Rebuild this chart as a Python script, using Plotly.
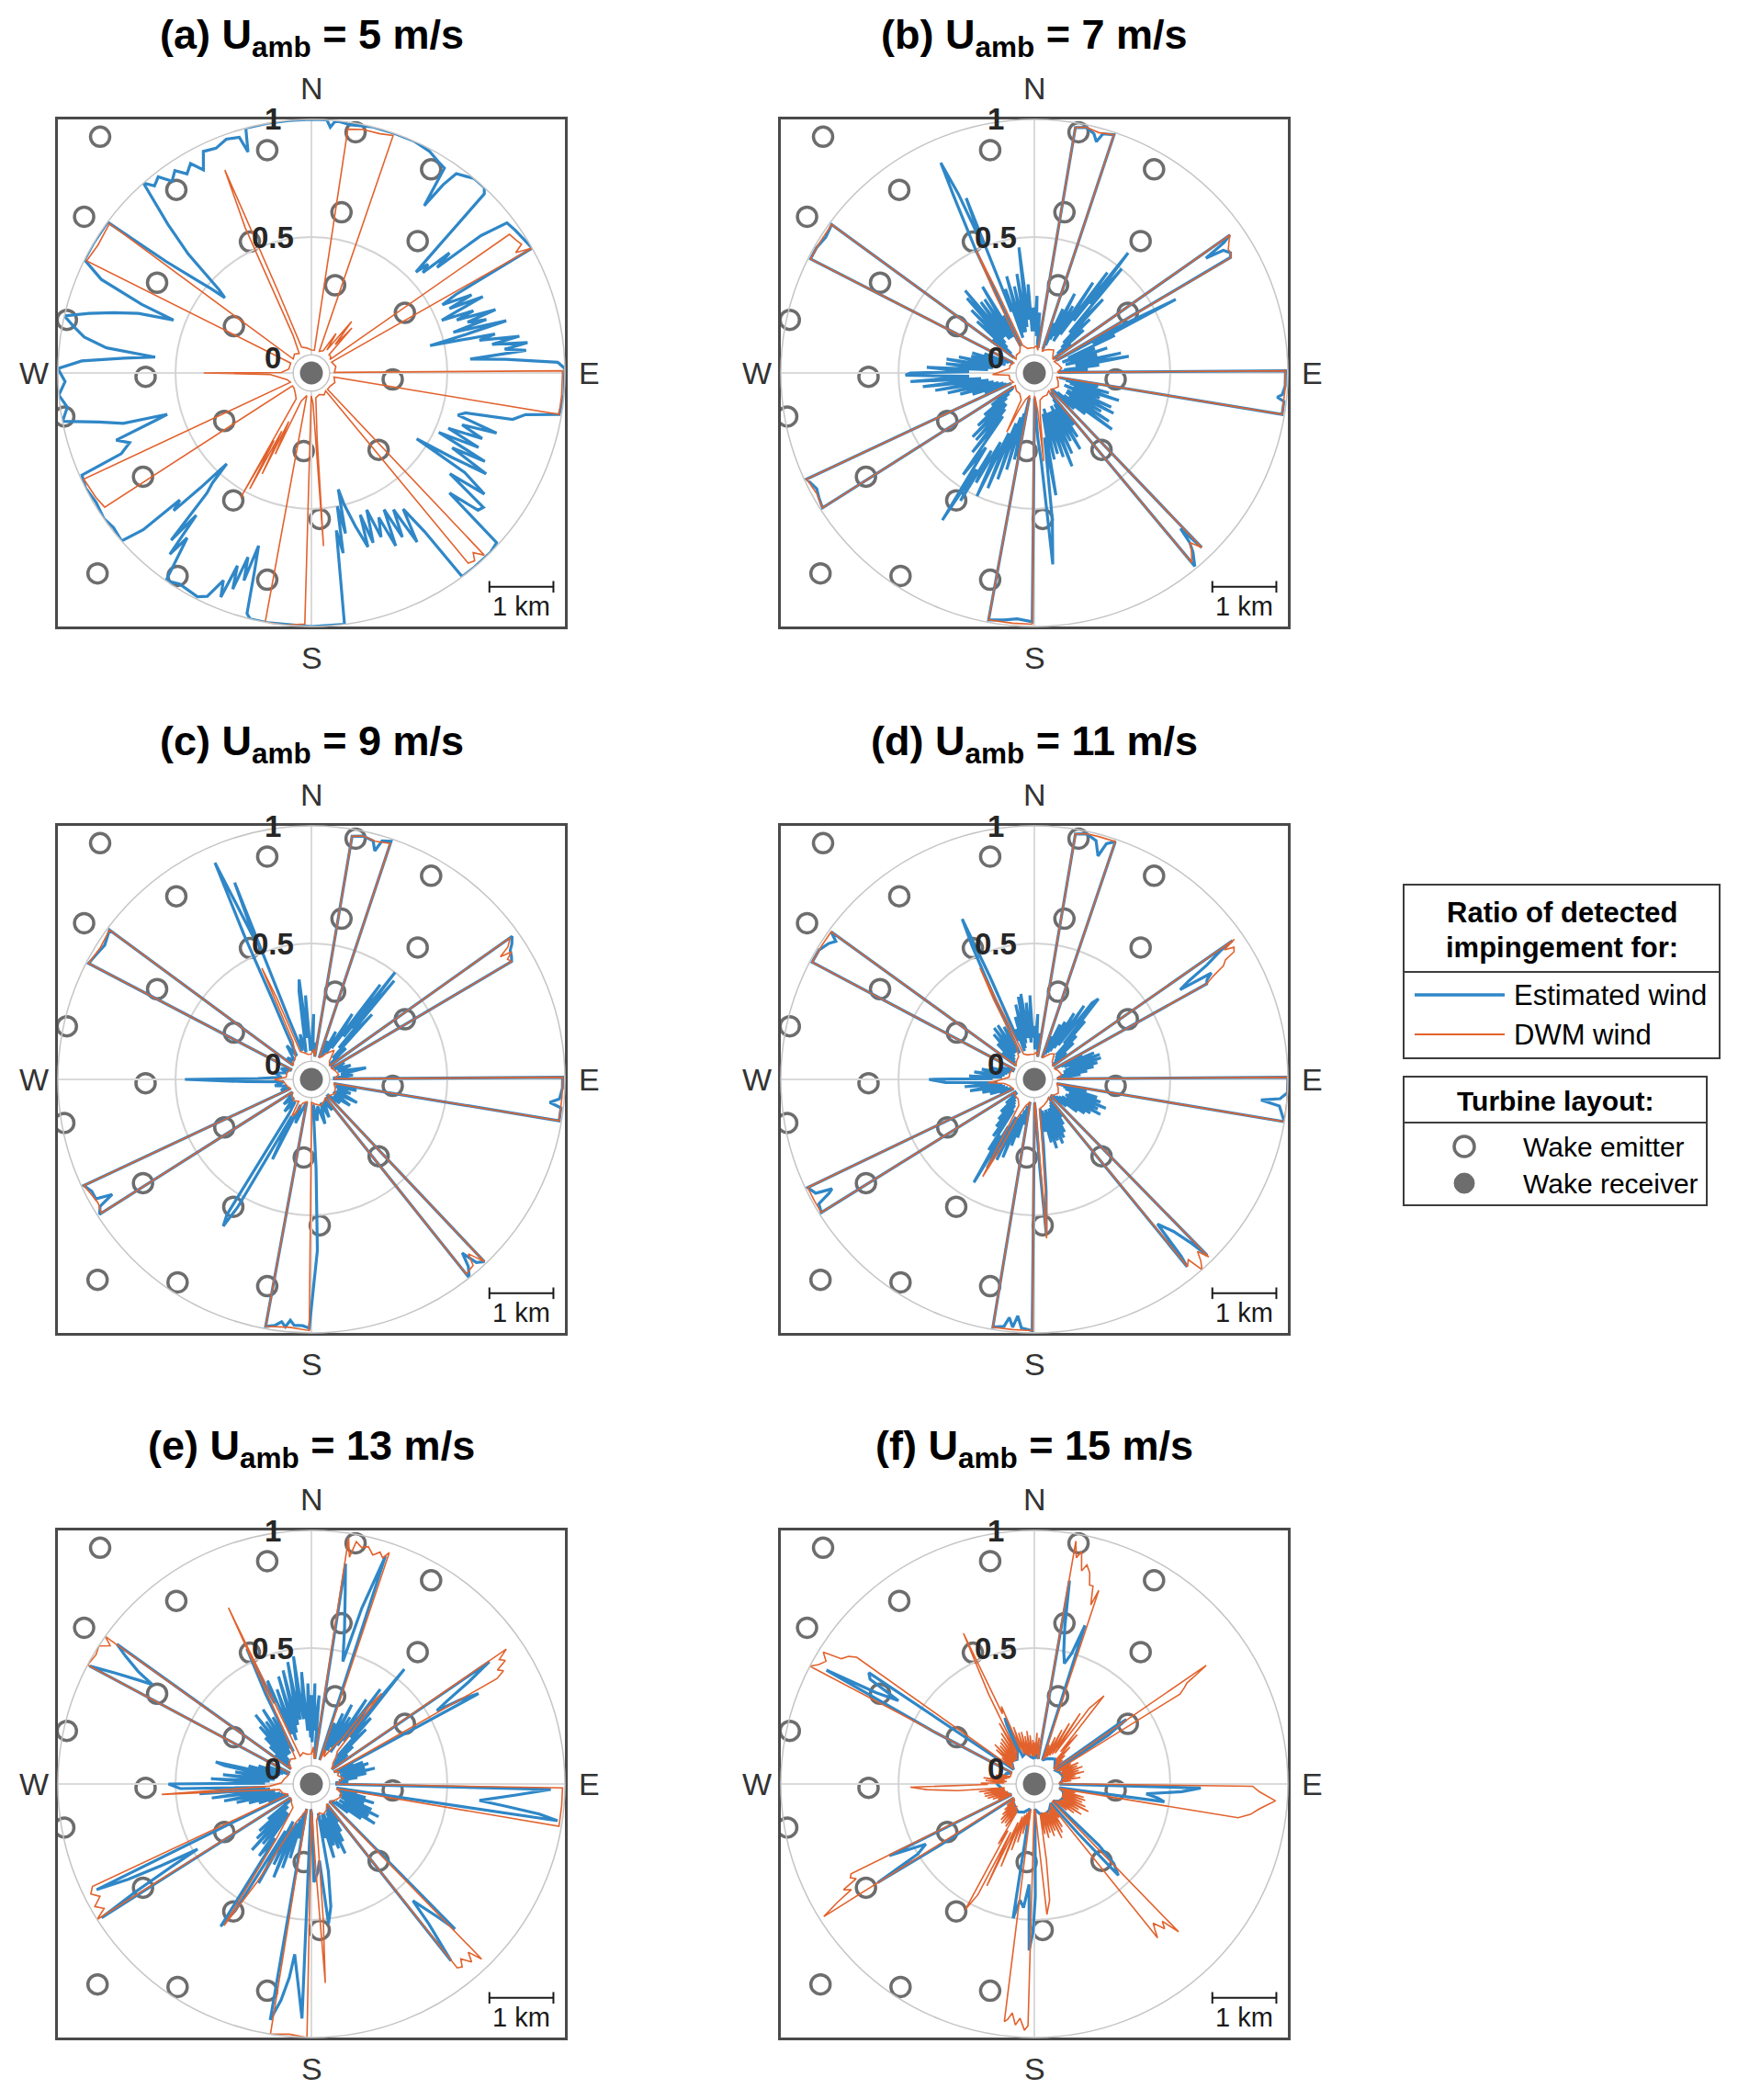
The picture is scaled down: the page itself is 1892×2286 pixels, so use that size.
import math
import plotly.graph_objects as go

# ---------------- data ----------------
SPEEDS = ["5", "7", "9", "11", "13", "15"]
LETTERS = ["a", "b", "c", "d", "e", "f"]
DIR_VALS = [0, 90, 180, 270]
DIR_TEXT = ["N", "E", "S", "W"]
R_TICKS = [0, 0.5, 1]
R_TICKTEXT = ["0", "0.5", "1"]

# turbine layout (km, receiver at origin)
TURB_X = [-3.30, -0.69, 0.69, 1.87, -2.11, 0.47, -3.55, -0.96, 1.66, -2.41, 0.37, 1.46, -3.82,
          -1.21, -2.59, 1.27, -3.86, -1.36, -0.12, 1.05, -2.63, -1.22, 0.13, -3.34, -2.09, -0.69]
TURB_Y = [3.69, 3.48, 3.76, 3.18, 2.86, 2.51, 2.44, 2.05, 2.06, 1.41, 1.37, 0.94, 0.83,
          0.73, -0.06, -0.10, -0.68, -0.75, -1.22, -1.20, -1.62, -1.99, -2.28, -3.13, -3.17, -3.23]
RECV_X = [0.0]
RECV_Y = [0.0]
HALF_KM = 3.96
SCALE_KM = 1.0

# ratio of detected impingement: (direction deg, ratio)
EST_A = [[0,1.0],[3.5,1.0],[4.4,0.97],[5.5,1.0],[9,0.99],[14,1.0],[19,1.0],[24,1.0],[28,0.99],[31,0.97],[33,0.96],[34,0.78],[35,0.9],[36,0.97],[40,1.0],[43,1.0],
 [44,0.98],[45,0.7],[46,0.54],[47,0.6],[48,0.56],[49,0.7],[50,0.62],[51,0.85],[52.5,0.97],[55,0.98],[58,0.99],[60.5,1.0],
 [61.5,0.62],[62.5,0.55],[64,0.68],[65,0.57],[66,0.72],[67,0.6],[68,0.52],[69,0.66],[70,0.58],[71,0.75],[72,0.62],[73,0.7],[74,0.55],[75,0.78],[76,0.6],[77,0.44],[78,0.72],[79,0.65],[80,0.82],[81,0.7],[82,0.85],[83,0.75],[84,0.84],[85,0.6],[86,0.75],[87.5,0.97],[89,1.0],[95,1.0],[99.5,0.99],
 [101,0.85],[103,0.8],[104.5,0.6],[106,0.57],[108,0.75],[109,0.6],[111,0.7],[112,0.55],[114,0.7],[115,0.52],[117,0.75],[118,0.6],[120,0.78],[121,0.62],[122,0.45],[123,0.7],[125,0.82],[126,0.65],[128,0.85],[129.5,0.84],[131,0.7],[132.5,0.99],[135,1.0],[140,1.0],[143.5,1.0],
 [144.5,0.75],[146,0.62],[148,0.77],[149,0.6],[151,0.72],[152,0.58],[154,0.74],[155,0.6],[157,0.68],[158,0.55],[160,0.69],[161,0.56],[162,0.7],[164,0.6],[166,0.5],[167,0.43],[168,0.62],[169,0.5],[170,0.7],[171,0.6],[172.5,1.0],[180,1.0],[190,1.0],[194,1.0],
 [195,0.98],[196,0.8],[197,0.69],[198,0.85],[199,0.75],[200,0.9],[201,0.8],[202,0.95],[203,0.88],[205,0.97],[207,0.99],[212,0.98],[215,1.0],[217,0.8],[218,0.9],[219,0.7],[220,0.85],[221,0.6],[222,0.55],[223,0.45],[224,0.6],[225,0.75],[226,0.7],[227,0.9],[228.5,1.0],[232,0.99],[235,1.0],[239,0.99],[243,1.0],[246,0.99],
 [247,0.8],[249,0.75],[251,0.8],[253,0.62],[254,0.56],[255,0.75],[257,0.85],[259,1.0],[262,0.97],[265,1.0],[268,0.97],[271,1.0],[273,0.9],[274.5,0.72],[275.8,0.59],[277,0.8],[279,0.9],[281,0.95],[283,1.0],[285,0.9],[287,0.8],[289,0.7],[291,0.55],[292,0.7],[294,0.9],[296.5,1.0],[301,1.0],[306.5,1.0],
 [307.5,0.7],[309,0.55],[310,0.48],[311,0.41],[312,0.45],[314,0.65],[316,0.8],[318.5,1.0],[320,0.96],[322,0.98],[324,0.93],[326,0.96],[328,0.92],[330,0.95],[332,0.9],[334,0.97],[337,0.96],[340,0.98],[343,0.97],[344,0.9],[345,1.0],[350,1.0],[355,1.0],[360,1.0]]

DWM_A = [[0,0.02],[7.5,0.02],[8.5,0.97],[12,0.98],[16,0.98],[19,0.99],[20,0.02],[28,0.03],[32,0.12],[34,0.04],[38,0.2],[40,0.08],[42,0.18],[44,0.03],[50,0.03],[54,0.02],[55,0.95],[57,0.96],[58.5,0.97],[59.5,0.93],[60.5,1.0],[61.5,0.02],[75,0.03],[88.5,0.02],[89.5,0.99],[95,0.99],[99.5,0.99],[100.5,0.02],[112,0.03],[125,0.02],[135.5,0.02],[136.5,0.99],[138,0.95],[139,0.98],[140.5,0.97],[141.5,0.02],[150,0.03],[160,0.02],[170,0.03],[175,0.2],[176,0.66],[177,0.05],[180.5,0.02],[181.5,0.99],[186,1.0],[190.5,1.0],[191.5,0.02],
 [200,0.05],[204,0.3],[205,0.15],[206,0.4],[207,0.2],[208,0.48],[209,0.25],[209.6,0.53],[210.5,0.05],[220,0.03],[230,0.02],[236,0.02],[237,0.97],[240,0.98],[245,0.99],[246,0.02],[255,0.03],[268,0.1],[270,0.38],[271,0.05],[280,0.02],[295.5,0.02],[296.5,0.99],[301,0.98],[306.5,0.99],[307.5,0.02],[318,0.03],[328,0.02],[334,0.1],[335.5,0.6],[336.9,0.86],[337.8,0.3],[339,0.04],[350,0.03],[360,0.02]]

EST_B = [[0,0.1],[2,0.25],[3,0.08],[5,0.18],[6,0.05],[8.5,0.03],[9.5,0.98],[12,0.99],[14,0.97],[15,0.94],[16,0.98],[18.5,0.99],[19.5,0.03],
 [21,0.15],[22,0.05],[24,0.22],[25,0.08],[27,0.3],[28,0.1],[30,0.25],[31,0.08],[33,0.38],[34,0.12],[36,0.45],[37,0.2],[38,0.57],[39,0.3],[40,0.5],[41,0.15],[43,0.35],[44,0.1],[46,0.25],[47,0.08],[49,0.2],[50,0.05],[52,0.12],[53,0.03],
 [53.8,0.03],[54.8,0.94],[55.5,0.9],[56.2,0.8],[57,0.88],[58.5,0.9],[59.5,0.89],[60.3,0.03],
 [61.5,0.35],[62.5,0.6],[63.5,0.2],[65,0.3],[66,0.08],[68,0.2],[69,0.05],[71,0.25],[72,0.08],[74,0.2],[75,0.06],[77,0.3],[78,0.1],[80,0.33],[81,0.1],[83,0.2],[84,0.05],[86,0.15],[87,0.03],
 [88.5,0.03],[89.5,0.99],[93,0.99],[95,0.98],[95.7,0.96],[96.5,0.99],[99.5,0.99],[100.5,0.03],
 [102,0.2],[103,0.06],[105,0.25],[106,0.08],[108,0.3],[109,0.1],[111,0.22],[112,0.06],[114,0.28],[115,0.1],[117,0.3],[118,0.08],[120,0.25],[121,0.08],[123,0.3],[124,0.1],[126,0.33],[127,0.08],[129,0.2],[130,0.05],[132,0.15],[133,0.03],
 [135.2,0.03],[136.2,0.95],[136.8,0.83],[137.5,0.9],[138.5,0.94],[140.3,0.99],[141.3,0.03],
 [143,0.2],[144,0.06],[146,0.25],[147,0.08],[149,0.3],[150,0.1],[152,0.25],[153,0.08],[155,0.3],[156,0.1],[158,0.35],[159,0.1],[161,0.3],[162,0.1],[164,0.28],[165,0.08],[167,0.3],[168,0.1],[170,0.45],[171,0.2],[173,0.55],[174.5,0.74],[175.5,0.3],[177,0.2],[178.5,0.05],
 [179.5,0.03],[180.5,0.98],[184,0.97],[187,0.98],[190.5,0.99],[191.5,0.03],
 [193,0.3],[194,0.1],[196,0.35],[197,0.12],[199,0.4],[200,0.15],[202,0.45],[203,0.2],[205,0.5],[206,0.25],[208,0.45],[209,0.3],[210,0.55],[211,0.4],[212,0.66],[213,0.3],[215,0.45],[216,0.15],[218,0.35],[219,0.12],[221,0.3],[222,0.1],[224,0.3],[225,0.1],[227,0.25],[228,0.08],[230,0.2],[231,0.06],[233,0.15],[234,0.04],
 [236.5,0.03],[237.5,0.99],[240,0.98],[242,0.97],[245,0.99],[246,0.03],
 [248,0.15],[249,0.05],[251,0.2],[252,0.06],[254,0.25],[255,0.08],[257,0.3],[258,0.1],[260,0.35],[261,0.12],[263,0.4],[264,0.15],[266,0.45],[267,0.2],[269,0.47],[270,0.45],[271,0.2],[273,0.38],[274,0.12],[276,0.3],[277,0.1],[279,0.3],[280,0.08],[282,0.25],[283,0.08],[285,0.2],[286,0.05],[288,0.2],[289,0.06],[291,0.15],[292,0.04],[294,0.08],[295,0.03],
 [296,0.03],[297,0.99],[300,0.99],[303,0.98],[306.2,0.99],[307,0.03],
 [309,0.15],[310,0.05],[312,0.25],[313,0.08],[315,0.3],[316,0.1],[318,0.35],[319,0.12],[320,0.38],[321,0.12],[323,0.3],[324,0.1],[326,0.3],[327,0.1],[329,0.35],[330,0.1],[332,0.2],[333,0.05],
 [334.5,0.5],[335.5,0.75],[336,0.9],[337,0.75],[338,0.5],[338.7,0.72],[339.5,0.2],[341,0.3],[342,0.08],[344,0.35],[345,0.1],[347,0.3],[348,0.1],[350,0.35],[351,0.12],[353,0.46],[354,0.15],[356,0.3],[357,0.1],[359,0.2],[360,0.1]]

DWM_B = [[0,0.03],[5,0.04],[8.5,0.02],[9.5,0.98],[12,0.99],[15,0.98],[18.5,0.99],[19.5,0.02],[25,0.03],[32,0.04],[40,0.05],[47,0.03],[53.8,0.02],[54.8,0.94],[56,0.92],[57.5,0.9],[58.5,0.9],[59.6,0.89],[60.3,0.02],[70,0.03],[80,0.04],[88.5,0.02],[89.5,0.99],[94,0.99],[99.5,0.99],[100.5,0.02],[110,0.03],[120,0.04],[128,0.03],[135.2,0.02],[136.2,0.95],[137.5,0.9],[138.5,0.93],[140.3,0.97],[141.3,0.02],[150,0.03],[160,0.03],[168,0.04],[172,0.1],[174,0.3],[175,0.08],[179.5,0.02],[180.5,0.99],[185,0.99],[190.5,0.99],[191.5,0.02],[198,0.04],[203,0.1],[205,0.2],[206,0.05],[215,0.03],[225,0.03],[236.5,0.02],[237.5,0.99],[241,0.98],[245,0.99],[246,0.02],[255,0.03],[265,0.03],[268,0.1],[270,0.08],[280,0.03],[288,0.03],[296,0.02],[297,0.99],[301,0.99],[306.2,0.99],[307,0.02],[315,0.03],[325,0.03],[332,0.05],[333.5,0.3],[334.6,0.5],[335.5,0.3],[337,0.05],[345,0.03],[352,0.03],[360,0.03]]

EST_C = [[0,0.05],[2,0.2],[3,0.04],[5,0.08],[8.5,0.02],[9.5,0.97],[12,0.98],[14.5,0.97],[15.5,0.93],[16.5,0.98],[18.5,0.99],[19.5,0.02],
 [22,0.1],[24,0.03],[27,0.15],[29,0.05],[32,0.25],[33,0.08],[36,0.42],[37,0.15],[38,0.5],[39,0.2],[40,0.47],[41,0.1],[43,0.3],[45,0.05],[48,0.12],[50,0.03],
 [53.5,0.02],[54.5,0.97],[56,0.95],[57,0.93],[58.5,0.92],[59.5,0.91],[60.5,0.02],
 [63,0.08],[66,0.03],[70,0.1],[73,0.04],[78,0.16],[80,0.05],[84,0.1],[86,0.02],
 [88.5,0.02],[89.5,0.99],[92,0.99],[94.5,0.98],[95.5,0.94],[96.5,0.99],[99.5,0.99],[100.5,0.02],
 [104,0.12],[106,0.03],[110,0.1],[113,0.04],[117,0.14],[120,0.03],[124,0.12],[127,0.04],[130,0.08],[133,0.02],
 [135.5,0.02],[136.5,0.99],[138,0.97],[139,0.9],[140,0.96],[141.5,1.0],[142.5,0.02],
 [146,0.08],[150,0.03],[155,0.1],[158,0.03],[163,0.12],[167,0.04],[172,0.1],[176,0.03],[177,0.3],[178,0.65],
 [180.5,0.98],[182,0.97],[184,0.97],[185,0.95],[186,0.98],[187,0.96],[188.5,0.98],[190.5,0.99],[191.5,0.02],
 [196,0.05],[200,0.12],[203,0.04],[206,0.3],[208,0.1],[210,0.55],[211,0.65],[212,0.6],[213,0.1],[216,0.04],[220,0.1],[224,0.03],[228,0.08],[232,0.03],
 [236.5,0.02],[237.5,0.99],[239,0.97],[240,0.9],[241,0.97],[243,0.97],[245,0.99],[246,0.02],
 [250,0.06],[255,0.03],[260,0.08],[265,0.04],[268,0.2],[270,0.46],[271,0.15],[274,0.05],[280,0.08],[285,0.03],[290,0.06],[294,0.02],
 [296.5,0.02],[297.5,0.99],[300,0.98],[303,0.97],[306.5,0.99],[307.5,0.02],
 [312,0.06],[318,0.03],[324,0.1],[328,0.04],[332,0.15],[334,0.3],[335,0.6],[336,0.93],[337,0.7],[338,0.55],[338.7,0.82],[339.5,0.2],[342,0.05],[346,0.12],[349,0.04],[352,0.3],[353,0.35],[354,0.1],[356,0.28],[358,0.05],[360,0.05]]

DWM_C = [[0,0.03],[5,0.05],[8.5,0.02],[9.5,0.97],[12,0.98],[15,0.97],[18.5,0.98],[19.5,0.02],[25,0.03],[30,0.05],[38,0.08],[45,0.03],[53.5,0.02],[54.5,0.96],[56,0.93],[57,0.88],[57.5,0.93],[58.5,0.9],[59.5,0.91],[60.5,0.02],[70,0.03],[80,0.04],[88.5,0.02],[89.5,0.99],[94,0.99],[99.5,0.99],[100.5,0.02],[110,0.03],[120,0.04],[128,0.03],[135.5,0.02],[136.5,0.99],[138,0.92],[139,0.97],[141.5,0.98],[142.5,0.02],[150,0.03],[160,0.04],[170,0.03],[179.5,0.02],[180.5,0.99],[185,0.98],[190.5,0.99],[191.5,0.02],[200,0.03],[205,0.08],[208,0.1],[210,0.03],[220,0.04],[230,0.03],[236.5,0.02],[237.5,0.98],[240,0.97],[243,0.98],[245,0.99],[246,0.02],[255,0.03],[265,0.04],[270,0.08],[275,0.03],[285,0.03],[296.5,0.02],[297.5,0.99],[302,0.98],[306.5,0.99],[307.5,0.02],[315,0.03],[325,0.04],[334,0.1],[336,0.44],[337,0.3],[338,0.05],[345,0.04],[352,0.03],[360,0.03]]

EST_D = [[0,0.15],[1,0.05],[3,0.2],[4,0.06],[6,0.12],[7,0.03],[8.5,0.02],[9.5,0.98],[12,0.99],[14.5,0.97],[15.9,0.91],[17,0.97],[18.8,0.99],[19.8,0.02],
 [22,0.12],[23,0.04],[25,0.18],[26,0.05],[28,0.2],[29,0.06],[31,0.25],[32,0.08],[34,0.3],[35,0.1],[37,0.33],[38.5,0.36],[39.5,0.12],[41,0.25],[42,0.06],[44,0.18],[45,0.05],[47,0.15],[48,0.04],[50,0.1],[51,0.03],
 [54,0.02],[55,0.95],[55.3,0.89],[56.5,0.8],[57.5,0.7],[58.4,0.65],[59,0.8],[60,0.77],[61,0.76],[61.8,0.02],
 [63,0.15],[64,0.05],[66,0.2],[67,0.06],[69,0.22],[70,0.08],[72,0.22],[73,0.06],[75,0.2],[76,0.05],[78,0.18],[79,0.05],[81,0.15],[82,0.04],[84,0.12],[85,0.03],
 [88.5,0.02],[89.5,1.0],[93,1.0],[94.5,0.97],[95.2,0.89],[96.2,0.97],[99.6,1.0],[100.6,0.02],
 [103,0.15],[104,0.05],[106,0.2],[107,0.06],[109,0.22],[110,0.08],[112,0.25],[113,0.08],[115,0.22],[116,0.07],[118,0.24],[119,0.08],[121,0.2],[122,0.06],[124,0.18],[125,0.05],[127,0.15],[128,0.04],[130,0.1],[131,0.03],
 [134.5,0.02],[135.5,0.97],[136.3,0.88],[137.5,0.8],[139.6,0.73],[140.3,0.9],[140.8,0.95],[141.5,0.02],
 [144,0.12],[145,0.04],[147,0.15],[148,0.05],[150,0.18],[151,0.06],[153,0.2],[154,0.06],[156,0.22],[157,0.07],[159,0.2],[160,0.06],[162,0.23],[163,0.07],[165,0.2],[166,0.06],[168,0.15],[169,0.05],[172,0.2],[174,0.4],[175.6,0.58],[176.5,0.3],[178,0.05],
 [179.5,0.02],[180.5,0.99],[183,0.98],[184,0.93],[185,0.98],[186,0.94],[187,0.98],[189.5,0.99],[190.5,0.02],
 [193,0.12],[194,0.04],[196,0.18],[197,0.06],[199,0.22],[200,0.08],[202,0.28],[203,0.1],[205,0.3],[206,0.1],[208,0.35],[209,0.15],[210.4,0.43],[211.5,0.2],[213,0.28],[214,0.08],[216,0.22],[217,0.06],[219,0.18],[220,0.05],[222,0.15],[223,0.04],[226,0.12],[227,0.03],[230,0.08],[232,0.02],
 [237,0.02],[238,0.99],[240,0.98],[241,0.92],[241.6,0.9],[242.5,0.97],[244.5,0.99],[245.5,0.02],
 [248,0.08],[249,0.03],[252,0.12],[253,0.04],[256,0.15],[257,0.05],[260,0.2],[261,0.06],[264,0.22],[265,0.08],[268,0.3],[270,0.37],[271,0.1],[273,0.2],[274,0.06],[277,0.18],[278,0.05],[281,0.15],[282,0.04],[285,0.12],[286,0.03],[290,0.08],[292,0.02],
 [296.8,0.02],[297.8,0.99],[301,0.99],[303.5,0.97],[304.8,0.95],[306,0.99],[307,0.02],
 [310,0.1],[311,0.03],[314,0.14],[315,0.04],[318,0.18],[319,0.05],[322,0.2],[323,0.06],[326,0.2],[327,0.06],[330,0.18],[331,0.05],
 [334,0.3],[335,0.55],[335.8,0.67],[336.6,0.4],[337.5,0.1],[340,0.15],[341,0.05],[343,0.2],[344,0.06],[346,0.25],[347,0.08],[349,0.28],[350,0.1],[351,0.29],[352,0.1],[354,0.25],[355,0.08],[357,0.28],[358,0.1],[360,0.15]]

DWM_D = [[0,0.03],[5,0.04],[8.5,0.02],[9.5,0.98],[12,0.99],[15,0.99],[18.8,0.99],[19.8,0.02],[25,0.03],[32,0.05],[38,0.06],[45,0.03],[54,0.02],[55,0.96],[55.7,0.9],[56.5,0.94],[57.4,0.93],[58,0.88],[59,0.86],[60,0.8],[61,0.76],[61.8,0.02],[70,0.03],[80,0.04],[88.5,0.02],[89.5,1.0],[95,1.0],[99.6,1.0],[100.6,0.02],[110,0.03],[120,0.04],[128,0.03],[134.5,0.02],[135.5,0.98],[136.5,0.93],[137.5,0.97],[138.6,1.0],[139.5,0.93],[140.7,0.95],[141.5,0.02],[150,0.03],[160,0.04],[170,0.05],[173,0.2],[174.5,0.45],[175.6,0.6],[176.5,0.15],[178,0.03],[179.5,0.02],[180.5,0.99],[185,0.99],[189.5,0.99],[190.5,0.02],[198,0.04],[204,0.1],[206,0.25],[208,0.39],[209,0.15],[211,0.05],[220,0.03],[230,0.03],[237,0.02],[238,0.99],[241,0.99],[244.5,0.99],[245.5,0.02],[255,0.03],[262,0.05],[266,0.12],[268,0.08],[275,0.03],[285,0.03],[296.8,0.02],[297.8,0.99],[302,0.99],[306,0.99],[307,0.02],[315,0.03],[325,0.04],[332,0.08],[333,0.3],[334,0.45],[335,0.2],[337,0.04],[345,0.03],[352,0.03],[360,0.03]]

EST_E = [[0,0.3],[1,0.1],[2,0.35],[3,0.15],[5,0.3],[6,0.08],[7.8,0.03],[8.8,0.87],[10,0.75],[12,0.6],[14.4,0.46],[16,0.7],[18,0.94],[18.8,0.03],
 [21,0.2],[22,0.06],[24,0.25],[25,0.08],[27,0.3],[28,0.1],[30,0.25],[31,0.08],[33,0.35],[34,0.12],[36,0.42],[37,0.15],[39,0.55],[40,0.18],[42,0.3],[43,0.08],[45,0.25],[46,0.06],[48,0.16],[49,0.05],[51,0.12],[52,0.04],
 [54.5,0.03],[55.5,0.84],[57,0.72],[58.5,0.6],[59.7,0.54],[60.5,0.65],[61.6,0.73],[62.2,0.03],
 [64,0.12],[65,0.04],[67,0.16],[68,0.05],[70,0.18],[71,0.06],[73,0.16],[74,0.05],[76,0.2],[77,0.06],[79,0.16],[80,0.05],[82,0.12],[83,0.04],[86,0.08],[87,0.03],
 [90.3,0.03],[91.3,0.94],[93,0.8],[95.6,0.64],[96.5,0.75],[97.5,0.9],[98.5,0.98],[99.3,0.03],
 [101,0.12],[102,0.04],[104,0.16],[105,0.05],[107,0.2],[108,0.06],[110,0.16],[111,0.05],[113,0.2],[114,0.06],[116,0.24],[117,0.08],[119,0.2],[120,0.06],[122,0.24],[123,0.08],[125,0.18],[126,0.05],[128,0.12],[129,0.04],
 [134.3,0.03],[135.3,0.79],[136.5,0.7],[139,0.58],[140,0.7],[141.7,0.88],[142.5,0.03],
 [145,0.12],[146,0.04],[148,0.16],[149,0.05],[151,0.2],[152,0.06],[154,0.25],[155,0.08],[157,0.22],[158,0.06],[160,0.2],[161,0.06],[163,0.25],[164,0.08],[166,0.16],[167,0.05],[169,0.3],[171,0.45],[173,0.52],[174,0.25],[176,0.3],[178.5,0.34],[179.5,0.05],
 [181.3,0.03],[182.3,0.92],[183.5,0.8],[185.6,0.65],[186.5,0.75],[188,0.85],[189.9,0.94],[190.7,0.03],
 [193,0.16],[194,0.05],[196,0.25],[197,0.08],[199,0.3],[200,0.1],[202,0.35],[203,0.12],[205,0.3],[206,0.1],[208,0.4],[209,0.15],[211,0.55],[212.5,0.64],[213.5,0.2],[216,0.3],[217,0.08],[219,0.25],[220,0.08],[222,0.3],[223,0.08],[225,0.25],[226,0.06],[228,0.22],[229,0.06],[231,0.16],[232,0.04],
 [236.5,0.03],[237.5,0.98],[238.5,0.8],[239.5,0.6],[240.2,0.48],[241.5,0.65],[242.5,0.8],[243.8,0.94],[244.8,0.03],
 [247,0.12],[248,0.04],[250,0.16],[251,0.05],[253,0.2],[254,0.06],[256,0.25],[257,0.08],[259,0.3],[260,0.08],[262,0.35],[263,0.1],[265,0.4],[266,0.12],[268,0.48],[270,0.53],[271,0.12],[273,0.35],[274,0.1],[276,0.3],[277,0.08],[279,0.25],[280,0.08],[282,0.3],[283,0.34],[284,0.08],[286,0.2],[287,0.06],[289,0.16],[290,0.05],[292,0.12],[293,0.03],
 [297,0.03],[298,0.99],[299.5,0.88],[301,0.78],[302,0.72],[303,0.8],[304.5,0.88],[305.7,0.94],[306.5,0.03],
 [309,0.12],[310,0.04],[312,0.16],[313,0.05],[315,0.2],[316,0.06],[318,0.25],[319,0.08],[321,0.3],[322,0.08],[324,0.25],[325,0.08],[327,0.3],[328,0.1],[330,0.25],[331,0.08],
 [333,0.35],[334.5,0.56],[335.5,0.3],[337,0.4],[338,0.15],[340,0.35],[341,0.12],[343,0.4],[344,0.15],[346,0.42],[347,0.18],[349,0.45],[350,0.2],[352,0.47],[353,0.2],[355,0.4],[356,0.15],[358,0.35],[359,0.12],[360,0.3]]

DWM_E = [[0,0.05],[3,0.08],[5,0.04],[7.6,0.03],[8.6,0.98],[9.5,0.9],[10.5,0.97],[12,0.95],[13.5,0.96],[15,0.93],[16.5,0.95],[17.5,0.93],[18.6,0.96],[19.4,0.03],[22,0.08],[25,0.05],[30,0.1],[34,0.15],[36,0.3],[37.7,0.41],[38.5,0.1],[42,0.08],[46,0.05],[50,0.04],[54.3,0.03],[55.3,0.93],[56.5,0.88],[57.5,0.9],[58.5,0.85],[59.5,0.87],[60.4,0.83],[61.2,0.03],[66,0.05],[72,0.04],[80,0.06],[86,0.04],[89.9,0.03],[90.9,0.99],[95,0.99],[99.7,0.99],[100.5,0.03],[106,0.05],[112,0.06],[120,0.05],[128,0.04],[134.8,0.03],[135.8,0.96],[137,0.9],[138,0.94],[139.5,0.9],[140.5,0.93],[141.6,0.92],[142.4,0.03],[150,0.05],[158,0.06],[165,0.05],[172,0.08],[175,0.5],[176,0.77],[177,0.3],[179,0.05],[180,0.03],[181,1.0],[185,0.99],[189.3,1.0],[190.1,0.03],[196,0.06],[202,0.1],[206,0.2],[209,0.4],[211.7,0.63],[212.5,0.2],[218,0.05],[226,0.04],[232,0.03],[236.7,0.03],[237.7,1.0],[239,0.95],[240.5,0.98],[242,0.94],[243.5,0.97],[244.9,0.95],[245.7,0.03],[252,0.05],[260,0.06],[264,0.2],[266,0.56],[267,0.1],[272,0.05],[280,0.04],[288,0.03],[297,0.03],[298,1.0],[301,0.99],[303,1.0],[304.5,0.96],[305.6,1.0],[306.4,0.03],[312,0.05],[320,0.06],[328,0.05],[333,0.2],[334.8,0.75],[335.8,0.25],[338,0.05],[345,0.06],[352,0.05],[360,0.05]]

EST_F = [[0,0.03],[5,0.05],[8.8,0.03],[9.8,0.8],[11,0.6],[12.5,0.5],[14,0.45],[16,0.5],[17.7,0.63],[18.5,0.03],[25,0.04],[32,0.05],[40,0.06],[48,0.04],
 [53.5,0.03],[54.5,0.35],[55,0.4],[56.5,0.3],[57.5,0.03],[65,0.04],[75,0.05],[84,0.04],
 [90.4,0.03],[91.4,0.63],[93,0.55],[95,0.4],[96.5,0.45],[97.8,0.48],[98.6,0.03],[105,0.05],[115,0.06],[125,0.05],
 [132.5,0.03],[133.5,0.3],[135,0.4],[137.4,0.45],[138.5,0.2],[139.5,0.03],[150,0.05],[160,0.06],[170,0.05],
 [178.5,0.03],[179.5,0.4],[180.5,0.55],[181.8,0.63],[183,0.35],[185,0.45],[187,0.42],[189,0.5],[190,0.03],[200,0.05],[210,0.06],[220,0.05],[230,0.04],
 [236,0.03],[237,0.4],[237.8,0.71],[239,0.5],[241,0.45],[243.7,0.61],[244.5,0.03],[252,0.05],[260,0.06],[270,0.08],[280,0.06],[290,0.05],
 [296.5,0.03],[297.5,0.4],[298.7,0.93],[300,0.7],[301.5,0.6],[302.5,0.75],[303.9,0.77],[304.8,0.03],[315,0.06],[325,0.05],[333,0.08],[335,0.2],[336,0.23],[337,0.05],[345,0.06],[352,0.04],[360,0.03]]

DWM_F = [[0,0.1],[1,0.04],[3,0.14],[4,0.05],[6,0.12],[7,0.04],[8.7,0.03],[9.7,0.97],[10.5,0.9],[11.5,0.93],[12.5,0.85],[13.5,0.88],[14.7,0.85],[15.5,0.8],[16.5,0.8],[17.5,0.72],[18.4,0.79],[19.2,0.03],
 [21,0.1],[22,0.04],[24,0.14],[25,0.05],[27,0.18],[28,0.06],[30,0.22],[31,0.07],[33,0.28],[34,0.08],[36,0.32],[38.3,0.4],[39,0.1],[41,0.2],[42,0.06],[44,0.14],[45,0.05],[47,0.1],[48,0.04],[50,0.08],[51,0.03],
 [54.4,0.03],[55.4,0.81],[56,0.75],[56.5,0.7],[57.3,0.68],[58.3,0.65],[59,0.03],
 [61,0.1],[62,0.04],[64,0.13],[65,0.05],[67,0.12],[68,0.04],[70,0.14],[71,0.05],[73,0.12],[74,0.04],[76,0.14],[77,0.05],[79,0.1],[80,0.04],[82,0.12],[83,0.04],[85,0.08],[86,0.03],
 [89.6,0.03],[90.6,0.85],[92,0.88],[94,0.95],[95,0.92],[96.5,0.88],[98,0.85],[99.4,0.8],[100.2,0.03],
 [102,0.1],[103,0.04],[105,0.14],[106,0.05],[108,0.15],[109,0.05],[111,0.14],[112,0.05],[114,0.16],[115,0.05],[117,0.18],[118,0.06],[120,0.14],[121,0.05],[123,0.16],[124,0.05],[126,0.13],[127,0.04],[129,0.1],[130,0.03],
 [134.7,0.03],[135.7,0.8],[137,0.72],[138,0.75],[139.5,0.7],[140.5,0.73],[141.3,0.76],[142,0.03],
 [144,0.1],[145,0.04],[147,0.14],[148,0.05],[150,0.16],[151,0.05],[153,0.18],[154,0.06],[156,0.14],[157,0.05],[159,0.16],[160,0.05],[162,0.14],[163,0.05],[165,0.16],[166,0.05],[168,0.14],[169,0.05],[171,0.25],[172.5,0.42],[174.5,0.48],[176,0.15],[178,0.04],
 [180.5,0.03],[181.5,0.95],[182.3,0.97],[183.5,0.92],[184.5,0.95],[185.5,0.9],[186.5,0.93],[187.2,0.94],[188,0.03],
 [190,0.1],[191,0.04],[193,0.14],[194,0.05],[196,0.18],[197,0.06],[199,0.22],[200,0.07],[202,0.3],[203,0.1],[205,0.4],[206,0.15],[207,0.45],[208.8,0.53],[209.5,0.15],[211,0.22],[212,0.06],[214,0.14],[215,0.05],[217,0.13],[218,0.04],[220,0.14],[221,0.05],[223,0.13],[224,0.04],[226,0.11],[227,0.04],[229,0.09],[230,0.03],[232,0.07],[233,0.03],
 [236.8,0.03],[237.8,0.98],[239,0.9],[240,0.82],[241,0.85],[242,0.78],[243,0.8],[243.9,0.79],[244.7,0.03],
 [247,0.09],[248,0.03],[250,0.11],[251,0.04],[253,0.13],[254,0.04],[256,0.14],[257,0.05],[259,0.14],[260,0.05],[262,0.16],[263,0.05],[265,0.25],[267,0.38],[268.5,0.45],[269.5,0.12],[271,0.15],[272,0.05],[274,0.13],[275,0.04],[277,0.14],[278,0.05],[280,0.11],[281,0.04],[283,0.09],[284,0.03],[286,0.07],[287,0.03],
 [296.7,0.03],[297.7,1.0],[299,0.97],[300.5,0.95],[302,0.98],[303,0.9],[304.5,0.88],[305.5,0.85],[306.3,0.03],
 [309,0.1],[310,0.04],[312,0.14],[313,0.05],[315,0.16],[316,0.05],[318,0.14],[319,0.05],[321,0.15],[322,0.05],[324,0.16],[325,0.05],[327,0.18],[328,0.06],[330,0.22],[331,0.07],
 [333,0.35],[334.8,0.63],[335.5,0.25],[337,0.28],[338,0.08],[340,0.18],[341,0.06],[343,0.15],[344,0.05],[346,0.15],[347,0.05],[349,0.13],[350,0.04],[352,0.15],[353,0.05],[355,0.13],[356,0.04],[358,0.11],[359,0.04],[360,0.1]]

EST = [EST_A, EST_B, EST_C, EST_D, EST_E, EST_F]
DWM = [DWM_A, DWM_B, DWM_C, DWM_D, DWM_E, DWM_F]

# ---------------- style / layout ----------------
W, H = 1892, 2286
BLUE = "#2f87c7"
ORANGE = "#e2622d"
GRAY = "#6d6d6d"
FONT = "Arial, Liberation Sans, Helvetica, sans-serif"
COL_X = [(63, 615), (850, 1402)]
ROW_Y = [(130, 682), (899, 1451), (1666, 2218)]
HOLE = 0.072

def px(x):
    return x / W

def py(y):
    return 1 - y / H

fig = go.Figure()
layout = dict(width=W, height=H, margin=dict(l=0, r=0, t=0, b=0),
              paper_bgcolor="white", plot_bgcolor="white", showlegend=False,
              font=dict(family=FONT))
annotations = []
shapes = []

for i in range(6):
    col, row = i % 2, i // 2
    n = "" if i == 0 else str(i + 1)
    x0, x1 = COL_X[col]
    y0, y1 = ROW_Y[row]
    cx, cy = (x0 + x1) / 2, (y0 + y1) / 2
    rad = (x1 - x0) / 2
    dom_x = [px(x0), px(x1)]
    dom_y = [py(y1), py(y0)]
    pk = "polar" + n
    layout[pk] = dict(
        domain=dict(x=dom_x, y=dom_y), hole=HOLE, bgcolor="rgba(0,0,0,0)",
        angularaxis=dict(direction="clockwise", rotation=90, tickmode="array",
                         tickvals=DIR_VALS, showticklabels=False, showgrid=True,
                         gridcolor="#dadada", gridwidth=1.5, showline=True,
                         linecolor="#c4c4c4", linewidth=1.5, ticks=""),
        radialaxis=dict(range=[0, 1], tickmode="array", tickvals=R_TICKS,
                        showticklabels=False, angle=90, showline=False, showgrid=True,
                        gridcolor="#d3d3d3", gridwidth=1.5, ticks=""))
    layout["xaxis" + n] = dict(domain=dom_x, range=[-HALF_KM, HALF_KM], showgrid=False,
                               zeroline=False, showticklabels=False, ticks="", showline=True,
                               mirror=True, linecolor="#4a4a4a", linewidth=2.5,
                               anchor="y" + n, fixedrange=True)
    layout["yaxis" + n] = dict(domain=dom_y, range=[-HALF_KM, HALF_KM], showgrid=False,
                               zeroline=False, showticklabels=False, ticks="", showline=True,
                               mirror=True, linecolor="#4a4a4a", linewidth=2.5,
                               anchor="x" + n, fixedrange=True)
    xr, yr = "x" + n, "y" + n
    # turbine layout
    fig.add_trace(go.Scatter(x=TURB_X, y=TURB_Y, mode="markers", xaxis=xr, yaxis=yr,
                             marker=dict(symbol="circle-open", size=21, color=GRAY,
                                         line=dict(width=3.5, color=GRAY))))
    fig.add_trace(go.Scatter(x=RECV_X, y=RECV_Y, mode="markers", xaxis=xr, yaxis=yr,
                             marker=dict(symbol="circle", size=25, color=GRAY)))
    # scale bar (1 km) in lower right
    sb_x1 = HALF_KM - 0.18
    sb_x0 = sb_x1 - SCALE_KM
    sb_y = -HALF_KM + 0.62
    fig.add_trace(go.Scatter(x=[sb_x0, sb_x1], y=[sb_y, sb_y], mode="lines+markers",
                             xaxis=xr, yaxis=yr, line=dict(color="#1a1a1a", width=2),
                             marker=dict(symbol="line-ns", size=9,
                                         line=dict(width=2, color="#1a1a1a"))))
    annotations.append(dict(x=(sb_x0 + sb_x1) / 2, y=sb_y - 0.3, xref=xr, yref=yr,
                            text="1 km", showarrow=False, font=dict(size=29, color="#1a1a1a"),
                            xanchor="center", yanchor="middle"))
    # ratio series
    est, dwm = EST[i], DWM[i]
    fig.add_trace(go.Scatterpolar(theta=[p[0] for p in est], r=[p[1] for p in est],
                                  mode="lines", subplot=pk,
                                  line=dict(color=BLUE, width=3.2)))
    fig.add_trace(go.Scatterpolar(theta=[p[0] for p in dwm], r=[p[1] for p in dwm],
                                  mode="lines", subplot=pk,
                                  line=dict(color=ORANGE, width=1.6)))
    # compass labels
    for ang, lab in zip(DIR_VALS, DIR_TEXT):
        c = math.cos(math.radians(ang))
        s = math.sin(math.radians(ang))
        d = rad + 26 + 8 * abs(c)
        lx = cx + d * s
        ly = cy - d * c
        annotations.append(dict(x=px(lx), y=py(ly), xref="paper", yref="paper", text=lab,
                                showarrow=False, font=dict(size=34, color="#333333"),
                                xanchor="center", yanchor="middle"))
    # radial tick labels (left of the north line)
    for rv, lab in zip(R_TICKS, R_TICKTEXT):
        ly = cy - (HOLE + rv * (1 - HOLE)) * rad
        annotations.append(dict(x=px(cx - 42), y=py(ly + (3 if rv == 0 else 0)), xref="paper",
                                yref="paper", text=f"<b>{lab}</b>", showarrow=False,
                                font=dict(size=33, color="#262626"),
                                xanchor="center", yanchor="middle"))
    # title
    annotations.append(dict(x=px(cx), y=py(y0 - 90), xref="paper", yref="paper",
                            text=f"<b>({LETTERS[i]}) U<sub>amb</sub> = {SPEEDS[i]} m/s</b>",
                            showarrow=False, font=dict(size=45, color="black"),
                            xanchor="center", yanchor="middle"))

# ---------------- custom legend ----------------
BOX = dict(type="rect", xref="paper", yref="paper", line=dict(color="#3c3c3c", width=2),
           fillcolor="rgba(0,0,0,0)")
shapes.append(dict(BOX, x0=px(1528), x1=px(1872), y0=py(1152), y1=py(963)))
shapes.append(dict(type="line", xref="paper", yref="paper", x0=px(1528), x1=px(1872),
                   y0=py(1058), y1=py(1058), line=dict(color="#3c3c3c", width=2)))
shapes.append(dict(BOX, x0=px(1528), x1=px(1858), y0=py(1312), y1=py(1172)))
shapes.append(dict(type="line", xref="paper", yref="paper", x0=px(1528), x1=px(1858),
                   y0=py(1222), y1=py(1222), line=dict(color="#3c3c3c", width=2)))
shapes.append(dict(type="line", xref="paper", yref="paper", x0=px(1540), x1=px(1638),
                   y0=py(1083), y1=py(1083), line=dict(color=BLUE, width=3.5)))
shapes.append(dict(type="line", xref="paper", yref="paper", x0=px(1540), x1=px(1638),
                   y0=py(1126), y1=py(1126), line=dict(color=ORANGE, width=1.8)))
shapes.append(dict(type="circle", xref="paper", yref="paper", xsizemode="pixel",
                   ysizemode="pixel", xanchor=px(1594), yanchor=py(1248),
                   x0=-11, x1=11, y0=-11, y1=11, line=dict(color=GRAY, width=3.5)))
shapes.append(dict(type="circle", xref="paper", yref="paper", xsizemode="pixel",
                   ysizemode="pixel", xanchor=px(1594), yanchor=py(1288),
                   x0=-11, x1=11, y0=-11, y1=11, fillcolor=GRAY, line=dict(color=GRAY, width=1)))

def txt(x, y, s, size=31, bold=False, anchor="left"):
    annotations.append(dict(x=px(x), y=py(y), xref="paper", yref="paper",
                            text=f"<b>{s}</b>" if bold else s, showarrow=False,
                            font=dict(size=size, color="black"), xanchor=anchor,
                            yanchor="middle"))

txt(1700, 994, "Ratio of detected", 31, True, "center")
txt(1700, 1032, "impingement for:", 31, True, "center")
txt(1646, 1083, "Estimated wind")
txt(1646, 1126, "DWM wind")
txt(1693, 1198, "Turbine layout:", 30, True, "center")
txt(1656, 1248, "Wake emitter", 30)
txt(1656, 1288, "Wake receiver", 30)

layout["annotations"] = annotations
layout["shapes"] = shapes
fig.update_layout(**layout)

fig.write_html("out.html", config={"displayModeBar": False},
               post_script="document.body.style.margin='0';document.body.style.overflow='hidden';")
